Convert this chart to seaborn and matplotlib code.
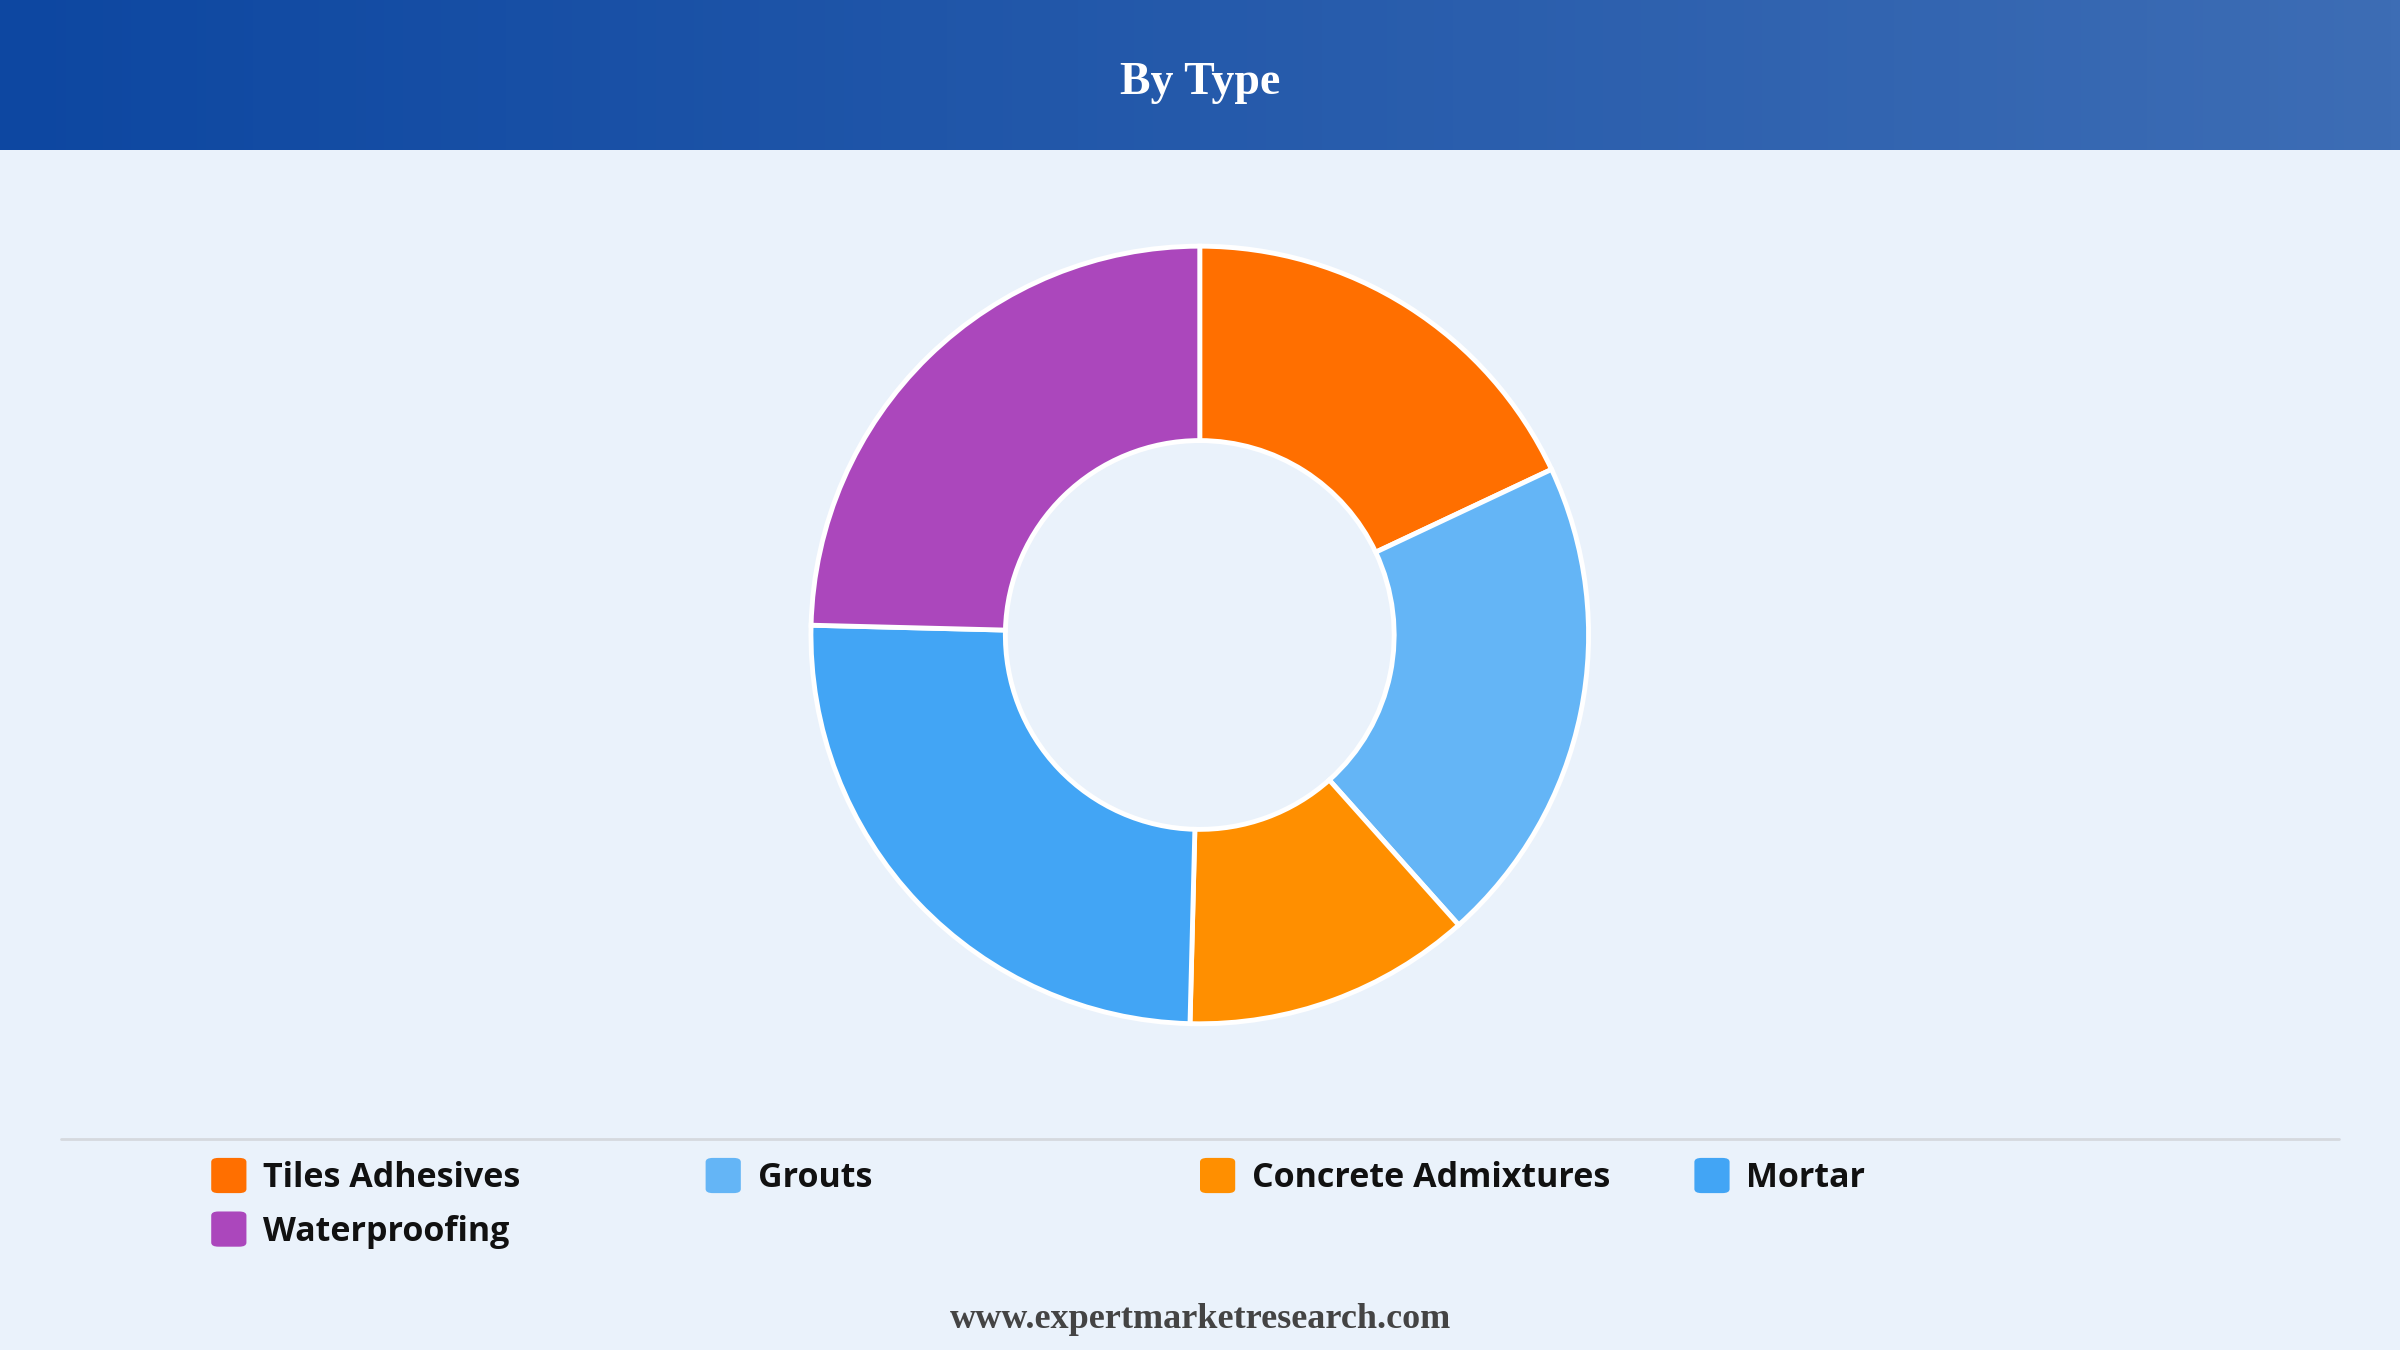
import numpy as np
import matplotlib
matplotlib.use("Agg")
import matplotlib.pyplot as plt
from matplotlib.patches import FancyBboxPatch
import seaborn as sns

types = ["Tiles Adhesives", "Grouts", "Concrete Admixtures", "Mortar", "Waterproofing"]
shares = [18.0, 20.4, 12.0, 25.0, 24.6]
colors = ["#ff6f00", "#64b5f6", "#ff8f00", "#42a5f5", "#ab47bc"]

sns.set_theme(style="white")
plt.rcParams["font.family"] = ["Open Sans", "DejaVu Sans"]

fig = plt.figure(figsize=(24, 13.5), dpi=100)
fig.patch.set_facecolor("#eaf2fb")

# header gradient band
hdr = fig.add_axes([0, 1 - 98 / 882, 1, 98 / 882])
grad = np.linspace(0, 1, 256).reshape(1, -1)
cmap = matplotlib.colors.LinearSegmentedColormap.from_list("hdr", ["#0d47a1", "#3d6db5"])
hdr.imshow(grad, aspect="auto", cmap=cmap, extent=[0, 1, 0, 1])
hdr.set_axis_off()
hdr.text(0.5, 0.45, "By Type", ha="center", va="center", color="white",
         fontsize=33, fontweight="bold", family=["Liberation Serif", "DejaVu Serif"])

# donut
ax = fig.add_axes([0.3379, 0.2415, 0.324, 0.5763])
ax.pie(shares, colors=colors, startangle=90, counterclock=False,
       wedgeprops=dict(width=0.5, edgecolor="white", linewidth=3.5))
ax.set_xlim(-1.0, 1.0)
ax.set_ylim(-1.0, 1.0)
ax.set_aspect("equal")
ax.set_axis_off()

# separator line
fig.add_artist(plt.Line2D([40 / 1568, 1528 / 1568], [1 - 744 / 882] * 2,
                          color="#d5d9de", linewidth=2, transform=fig.transFigure))

# legend
col_x = [138, 461, 784, 1107]
row_y = [768, 803]
for i, (lab, c) in enumerate(zip(types, colors)):
    x = col_x[i % 4] / 1568
    y = 1 - row_y[i // 4] / 882
    w = 23 / 1568
    h = 23 / 882
    fig.add_artist(FancyBboxPatch((x, y - h / 2), w, h, boxstyle="round,pad=0,rounding_size=0.003",
                                  facecolor=c, edgecolor="none", transform=fig.transFigure))
    fig.text(x + 34 / 1568, y - 0.002, lab, ha="left", va="center", fontsize=24.5,
             fontweight="bold", color="#111111")

fig.text(0.5, 1 - 862 / 882, "www.expertmarketresearch.com", ha="center", va="center",
         fontsize=26, fontweight="bold", color="#444444",
         family=["Liberation Serif", "DejaVu Serif"])

fig.savefig("out.png", dpi=100, facecolor=fig.get_facecolor())
